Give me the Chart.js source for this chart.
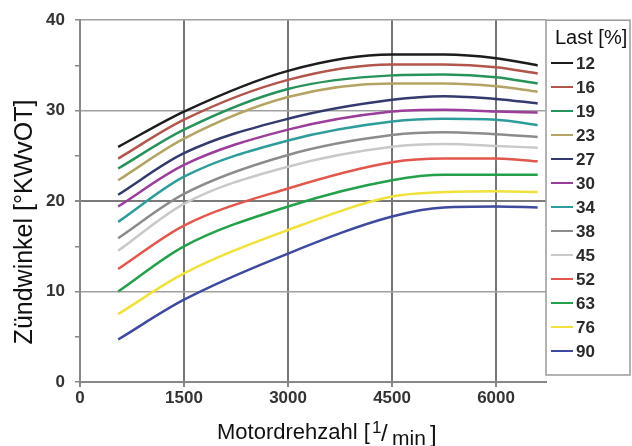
<!DOCTYPE html>
<html><head><meta charset="utf-8">
<script src="https://cdn.jsdelivr.net/npm/chart.js@4/dist/chart.umd.min.js"></script>
<style>html,body{margin:0;padding:0;background:#fff}#wrap{width:632px;height:446px}</style>
</head><body><div id="wrap"><canvas id="c" width="632" height="446"></canvas></div>
<script>
// ---- data ----
const rpm = [550, 1500, 3000, 4500, 5250, 6000, 6600];
const loadLabels = ['12','16','19','23','27','30','34','38','45','52','63','76','90'];
const load12 = [26.0, 29.9, 34.4, 36.2, 36.2, 35.8, 35.0];
const load16 = [24.7, 29.0, 33.4, 35.1, 35.1, 34.8, 34.1];
const load19 = [23.6, 27.9, 32.4, 33.9, 34.0, 33.7, 33.0];
const load23 = [22.3, 26.9, 31.5, 33.0, 33.0, 32.7, 32.1];
const load27 = [20.7, 25.3, 29.1, 31.2, 31.6, 31.3, 30.8];
const load30 = [19.4, 24.0, 27.9, 29.9, 30.1, 29.9, 29.8];
const load34 = [17.7, 22.7, 26.7, 28.8, 29.1, 29.0, 28.4];
const load38 = [15.9, 20.8, 25.1, 27.3, 27.6, 27.4, 27.1];
const load45 = [14.5, 19.7, 23.8, 26.0, 26.3, 26.1, 25.9];
const load52 = [12.5, 17.3, 21.4, 24.3, 24.7, 24.7, 24.4];
const load63 = [10.0, 15.0, 19.4, 22.3, 22.9, 22.9, 22.9];
const load76 = [7.5, 12.0, 16.8, 20.5, 21.0, 21.1, 21.0];
const load90 = [4.7, 9.1, 14.2, 18.3, 19.3, 19.4, 19.3];
const xTickValues = [0, 1500, 3000, 4500, 6000];
const yTickValues = [0, 5, 10, 15, 20, 25, 30, 35, 40];
const legendTitle = 'Last [%]';
const yTitle = 'Zündwinkel [°KWvOT]';
const xTitleParts = ['Motordrehzahl [', '1', '/', 'min', ']'];

// ---- styles ----
const seriesValues = [load12, load16, load19, load23, load27, load30, load34, load38, load45, load52, load63, load76, load90];
const colors = ['#1c1c1c','#b2554c','#27935a','#b3a464','#333a6e','#9b3d9b','#2f9c9c','#8c8c8c','#c9c9c9','#e2574c','#23a04a','#f0e23a','#3d4a9e'];
const TFONT = '"Liberation Sans", Arial, sans-serif';
const TICKFONT = {family: '"Liberation Sans", Arial, sans-serif', size: 17, weight: 'bold'};

const datasets = seriesValues.map((vals, i) => ({
  label: loadLabels[i],
  data: vals.map((v, j) => ({x: rpm[j], y: v})),
  borderColor: colors[i],
  backgroundColor: colors[i],
  borderWidth: 2.5,
  pointRadius: 0,
  cubicInterpolationMode: 'monotone',
  fill: false
}));

const decor = {
  id: 'decor',
  afterDraw(chart) {
    const ctx = chart.ctx;
    const a = chart.chartArea;
    ctx.save();

    // legend box (its left edge is the plot's right frame)
    ctx.strokeStyle = '#9a9a9a';
    ctx.lineWidth = 1.5;
    ctx.strokeRect(a.right, a.top, 630 - a.right, 375 - a.top);

    // legend title
    ctx.fillStyle = '#111';
    ctx.textBaseline = 'middle';
    ctx.textAlign = 'left';
    ctx.font = '20px ' + TFONT;
    ctx.fillText(legendTitle, a.right + 9, 38);

    // legend items
    chart.data.datasets.forEach((ds, i) => {
      const y = 63 + 24 * i;
      ctx.strokeStyle = ds.borderColor;
      ctx.lineWidth = 2;
      ctx.beginPath();
      ctx.moveTo(a.right + 5, y);
      ctx.lineTo(a.right + 27, y);
      ctx.stroke();
      ctx.fillStyle = '#2a2a2a';
      ctx.font = 'bold 17px ' + TFONT;
      ctx.fillText(ds.label, a.right + 30, y + 1);
    });

    // y title
    ctx.fillStyle = '#111';
    ctx.font = '25px ' + TFONT;
    ctx.save();
    ctx.translate(25, 222);
    ctx.rotate(-Math.PI / 2);
    ctx.textAlign = 'center';
    ctx.fillText(yTitle, 0, 0);
    ctx.restore();

    // x title with superscript / subscript
    ctx.textAlign = 'left';
    ctx.textBaseline = 'alphabetic';
    const parts = [
      {t: xTitleParts[0], size: 22, x: 217, y: 439},
      {t: xTitleParts[1], size: 17, x: 372, y: 433},
      {t: xTitleParts[2], size: 24, x: 381, y: 441},
      {t: xTitleParts[3], size: 21, x: 392, y: 445},
      {t: xTitleParts[4], size: 24, x: 430, y: 442}
    ];
    parts.forEach(p => {
      ctx.font = p.size + 'px ' + TFONT;
      ctx.fillText(p.t, p.x, p.y);
    });
    ctx.restore();
  }
};

new Chart(document.getElementById('c'), {
  type: 'line',
  data: {datasets},
  options: {
    responsive: false,
    animation: false,
    devicePixelRatio: 1,
    layout: {padding: {top: 18, right: 86, bottom: 0, left: 0}},
    plugins: {legend: {display: false}, tooltip: {enabled: false}},
    scales: {
      x: {
        type: 'linear', min: 0, max: 6720,
        afterBuildTicks: s => { s.ticks = xTickValues.map(v => ({value: v})); },
        afterFit: s => { s.height = 64; },
        grid: {color: '#767676', lineWidth: 2, tickLength: 5, tickColor: '#888'},
        border: {display: true, color: '#888', width: 2},
        ticks: {font: TICKFONT, color: '#333', padding: 1, maxRotation: 0, autoSkip: false,
          callback: v => String(v)}
      },
      y: {
        type: 'linear', min: 0, max: 40,
        afterBuildTicks: s => { s.ticks = yTickValues.map(v => ({value: v})); },
        afterFit: s => { s.width = 80; },
        grid: {
          color: c => (c.tick && c.tick.value % 10 === 0) ? (c.tick.value === 20 ? '#7a7a7a' : '#a0a0a0') : 'rgba(0,0,0,0)',
          lineWidth: c => (c.tick && c.tick.value === 20) ? 2 : 1.5,
          tickLength: 5, tickColor: '#888'
        },
        border: {display: true, color: '#888', width: 2},
        ticks: {
          font: TICKFONT, color: '#333', padding: 10, autoSkip: false,
          callback: v => (v % 10 === 0 ? String(v) : '')
        }
      }
    }
  },
  plugins: [decor]
});
</script>
</body></html>
